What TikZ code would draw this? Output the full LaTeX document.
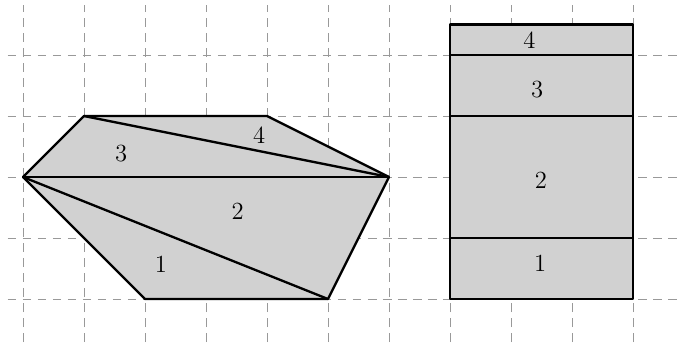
\documentclass[tikz,border=0pt]{standalone}
\begin{document}
\begin{tikzpicture}[x=1cm,y=1cm,
  gridline/.style={gray!80,line width=0.4pt,dash pattern=on 4pt off 3pt},
  filledshape/.style={draw=black,fill=black!18,line width=1.1pt,line join=round},
  edge/.style={draw=black,line width=1.1pt},
  lbl/.style={font=\fontsize{11.5}{14}\selectfont,inner sep=0pt}]
\useasboundingbox (-0.377,-0.705) rectangle (10.787,4.902);
% grid
\foreach \x in {0,...,10} \draw[gridline] (\x,-0.705) -- (\x,4.82);
\foreach \y in {0,...,4} \draw[gridline] (-0.25,\y) -- (10.787,\y);
% left polygon
\coordinate (A) at (0,2);
\coordinate (B) at (1,3);
\coordinate (C) at (4,3);
\coordinate (D) at (6,2);
\coordinate (E) at (5,0);
\coordinate (F) at (2,0);
\path[filledshape] (A) -- (B) -- (C) -- (D) -- (E) -- (F) -- cycle;
\draw[edge] (A) -- (D);
\draw[edge] (B) -- (D);
\draw[edge] (A) -- (E);
\node[lbl] (l3) at (1.61,2.39) {3};
\node[lbl] (l4) at (3.87,2.69) {4};
\node[lbl] (l2) at (3.52,1.43) {2};
\node[lbl] (l1) at (2.26,0.57) {1};
% right rectangle
\coordinate (R1) at (7,0);
\coordinate (R2) at (10,4.5);
\path[filledshape] (R1) rectangle (R2);
\coordinate (a1) at (7,1); \coordinate (b1) at (10,1);
\coordinate (a3) at (7,3); \coordinate (b3) at (10,3);
\coordinate (a4) at (7,4); \coordinate (b4) at (10,4);
\draw[edge] (a1) -- (b1);
\draw[edge] (a3) -- (b3);
\draw[edge] (a4) -- (b4);
\node[lbl] (r4) at (8.3,4.25) {4};
\node[lbl] (r3) at (8.43,3.43) {3};
\node[lbl] (r2) at (8.49,1.95) {2};
\node[lbl] (r1) at (8.48,0.59) {1};
\end{tikzpicture}
\end{document}
